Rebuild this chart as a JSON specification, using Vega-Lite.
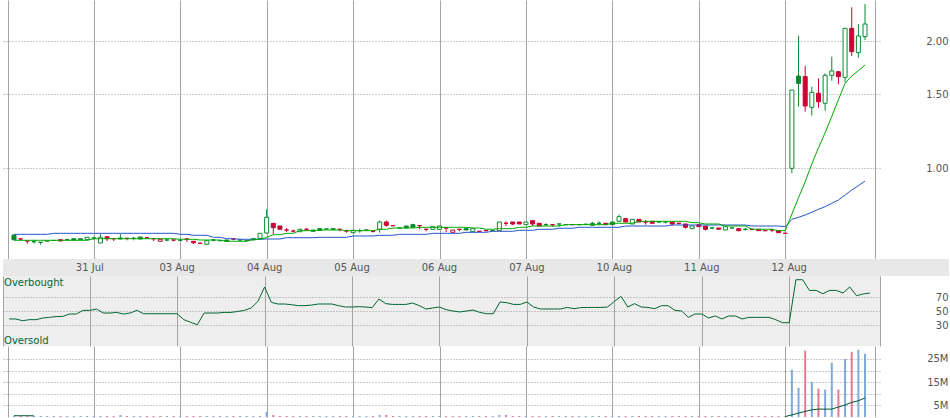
{
"$schema": "https://vega.github.io/schema/vega-lite/v6.json",
"padding": {"left": 3, "top": 0, "right": 0, "bottom": 0},
"background": "white",
"spacing": 0,
"config": {"view": {"stroke": null}, "axis": {"labelFont": "DejaVu Sans", "labelFontSize": 10, "labelColor": "#555555", "labelOverlap": false}, "text": {"font": "DejaVu Sans"}},
"datasets": {"bars": [
{"k":-12,"o":0.6948,"h":0.6948,"l":0.6772,"c":0.6772,"t":"u","m1":0.675,"m2":0.6974,"r":38.6,"v":0.43,"vm":0.55},
{"k":-11,"o":0.6798,"h":0.6835,"l":0.675,"c":0.6798,"t":"d","m1":0.675,"m2":0.6974,"r":38.6,"v":0.43,"vm":0.55},
{"k":-10,"o":0.6725,"h":0.6725,"l":0.6627,"c":0.6725,"t":"d","m1":0.675,"m2":0.6974,"r":36.1,"v":0.43,"vm":0.55},
{"k":-9,"o":0.6699,"h":0.6772,"l":0.6627,"c":0.6699,"t":"u","m1":0.675,"m2":0.6974,"r":37.6,"v":0.43,"vm":0.5},
{"k":-8,"o":0.6677,"h":0.6688,"l":0.6593,"c":0.6677,"t":"u","m1":0.675,"m2":0.6974,"r":37.6,"v":0.43,"vm":null},
{"k":-7,"o":0.6725,"h":0.6736,"l":0.6713,"c":0.6725,"t":"u","m1":0.675,"m2":0.6974,"r":40,"v":0.43,"vm":null},
{"k":-6,"o":0.6743,"h":0.6772,"l":0.6743,"c":0.6743,"t":"u","m1":0.675,"m2":0.7012,"r":40.9,"v":0.43,"vm":null},
{"k":-5,"o":0.6772,"h":0.6772,"l":0.6725,"c":0.6725,"t":"d","m1":0.675,"m2":0.7012,"r":42,"v":0.43,"vm":null},
{"k":-4,"o":0.6772,"h":0.6809,"l":0.6725,"c":0.6772,"t":"u","m1":0.675,"m2":0.7012,"r":42.3,"v":0.43,"vm":null},
{"k":-3,"o":0.6809,"h":0.6809,"l":0.6761,"c":0.6761,"t":"u","m1":0.675,"m2":0.7012,"r":45.7,"v":0.43,"vm":null},
{"k":-2,"o":0.6809,"h":0.6809,"l":0.6772,"c":0.6772,"t":"u","m1":0.675,"m2":0.7012,"r":45.7,"v":0.43,"vm":null},
{"k":-1,"o":0.6772,"h":0.6861,"l":0.6772,"c":0.6861,"t":"u","m1":0.675,"m2":0.7012,"r":50.9,"v":0.43,"vm":null},
{"k":0,"o":0.6835,"h":0.6884,"l":0.6772,"c":0.6835,"t":"u","m1":0.6809,"m2":0.7012,"r":50.9,"v":0.43,"vm":null},
{"k":1,"o":0.6652,"h":0.6997,"l":0.6652,"c":0.6861,"t":"u","m1":0.6809,"m2":0.7012,"r":52.8,"v":0.43,"vm":null},
{"k":2,"o":0.6884,"h":0.6884,"l":0.6725,"c":0.6809,"t":"d","m1":0.6809,"m2":0.7012,"r":47.1,"v":0.43,"vm":null},
{"k":3,"o":0.6809,"h":0.6809,"l":0.6725,"c":0.6809,"t":"d","m1":0.6809,"m2":0.7012,"r":47.1,"v":0.43,"vm":null},
{"k":4,"o":0.6835,"h":0.6997,"l":0.6798,"c":0.6798,"t":"u","m1":0.6809,"m2":0.7012,"r":48,"v":0.86,"vm":null},
{"k":5,"o":0.6824,"h":0.6824,"l":0.675,"c":0.6824,"t":"d","m1":0.6809,"m2":0.7012,"r":45.7,"v":0.43,"vm":null},
{"k":6,"o":0.6824,"h":0.6873,"l":0.675,"c":0.6824,"t":"u","m1":0.6809,"m2":0.7012,"r":47.1,"v":0.43,"vm":null},
{"k":7,"o":0.6873,"h":0.6873,"l":0.6798,"c":0.6798,"t":"u","m1":0.6809,"m2":0.7012,"r":50.9,"v":0.43,"vm":null},
{"k":8,"o":0.6846,"h":0.685,"l":0.684,"c":0.6846,"t":"d","m1":0.6809,"m2":0.7012,"r":46.1,"v":0.43,"vm":null},
{"k":9,"o":0.6809,"h":0.6809,"l":0.6725,"c":0.6809,"t":"d","m1":0.6809,"m2":0.7012,"r":46.1,"v":0.43,"vm":null},
{"k":10,"o":0.6713,"h":0.6787,"l":0.6713,"c":0.6787,"t":"d","m1":0.6809,"m2":0.7012,"r":46.1,"v":0.43,"vm":null},
{"k":11,"o":0.6761,"h":0.6809,"l":0.6713,"c":0.6761,"t":"u","m1":0.6809,"m2":0.7012,"r":46.1,"v":0.43,"vm":null},
{"k":12,"o":0.6761,"h":0.6761,"l":0.6713,"c":0.6761,"t":"d","m1":0.6809,"m2":0.7012,"r":46.1,"v":0.43,"vm":null},
{"k":13,"o":0.675,"h":0.6761,"l":0.674,"c":0.675,"t":"u","m1":0.6787,"m2":0.6974,"r":46.1,"v":0.43,"vm":null},
{"k":14,"o":0.6798,"h":0.6798,"l":0.6688,"c":0.6798,"t":"d","m1":0.6787,"m2":0.6974,"r":37.6,"v":0.43,"vm":null},
{"k":15,"o":0.6713,"h":0.6713,"l":0.6615,"c":0.6663,"t":"d","m1":0.6787,"m2":0.6937,"r":33.9,"v":0.43,"vm":null},
{"k":16,"o":0.6641,"h":0.6663,"l":0.6615,"c":0.6641,"t":"d","m1":0.6761,"m2":0.6937,"r":30.4,"v":0.43,"vm":null},
{"k":17,"o":0.6604,"h":0.6736,"l":0.6604,"c":0.6736,"t":"u","m1":0.6761,"m2":0.6937,"r":47.1,"v":0.43,"vm":null},
{"k":18,"o":0.6761,"h":0.6798,"l":0.6713,"c":0.6761,"t":"u","m1":0.6761,"m2":0.6861,"r":47.1,"v":0.43,"vm":null},
{"k":19,"o":0.6736,"h":0.675,"l":0.6725,"c":0.6736,"t":"u","m1":0.6761,"m2":0.6861,"r":47.1,"v":0.43,"vm":null},
{"k":20,"o":0.6761,"h":0.6761,"l":0.6713,"c":0.6713,"t":"u","m1":0.6713,"m2":0.6809,"r":48,"v":0.43,"vm":null},
{"k":21,"o":0.6798,"h":0.6835,"l":0.675,"c":0.6798,"t":"d","m1":0.6713,"m2":0.6809,"r":48,"v":0.43,"vm":null},
{"k":22,"o":0.6761,"h":0.677,"l":0.675,"c":0.6761,"t":"u","m1":0.6713,"m2":0.6787,"r":49.4,"v":0.43,"vm":null},
{"k":23,"o":0.6743,"h":0.675,"l":0.6736,"c":0.6743,"t":"u","m1":0.6713,"m2":0.6787,"r":50.9,"v":0.43,"vm":null},
{"k":24,"o":0.6809,"h":0.6809,"l":0.6761,"c":0.6761,"t":"u","m1":0.6787,"m2":0.6787,"r":54.3,"v":0.43,"vm":null},
{"k":25,"o":0.6824,"h":0.7012,"l":0.6824,"c":0.7012,"t":"u","m1":0.6787,"m2":0.6787,"r":63.7,"v":0.43,"vm":null},
{"k":26,"o":0.7024,"h":0.7993,"l":0.7012,"c":0.7653,"t":"u","m1":0.6861,"m2":0.6798,"r":84.3,"v":2.2,"vm":null},
{"k":27,"o":0.7405,"h":0.7405,"l":0.6986,"c":0.7232,"t":"d","m1":0.6959,"m2":0.6798,"r":62.3,"v":0.86,"vm":null},
{"k":28,"o":0.7298,"h":0.7298,"l":0.7169,"c":0.7169,"t":"d","m1":0.6959,"m2":0.6798,"r":60,"v":0.43,"vm":null},
{"k":29,"o":0.7141,"h":0.7219,"l":0.7063,"c":0.7141,"t":"d","m1":0.7012,"m2":0.6846,"r":60,"v":0.43,"vm":null},
{"k":30,"o":0.7102,"h":0.7153,"l":0.7052,"c":0.7102,"t":"d","m1":0.7012,"m2":0.6846,"r":59,"v":0.43,"vm":null},
{"k":31,"o":0.7075,"h":0.7169,"l":0.7075,"c":0.7169,"t":"u","m1":0.7114,"m2":0.6846,"r":57.6,"v":0.43,"vm":null},
{"k":32,"o":0.7169,"h":0.7206,"l":0.7115,"c":0.7169,"t":"d","m1":0.7114,"m2":0.6846,"r":57.6,"v":0.43,"vm":null},
{"k":33,"o":0.7141,"h":0.7141,"l":0.709,"c":0.709,"t":"u","m1":0.7114,"m2":0.6846,"r":58.5,"v":0.43,"vm":null},
{"k":34,"o":0.7193,"h":0.7193,"l":0.7129,"c":0.7129,"t":"u","m1":0.7141,"m2":0.6861,"r":60,"v":0.43,"vm":null},
{"k":35,"o":0.718,"h":0.719,"l":0.717,"c":0.718,"t":"u","m1":0.7141,"m2":0.6861,"r":60,"v":0.43,"vm":null},
{"k":36,"o":0.7193,"h":0.7193,"l":0.7155,"c":0.7155,"t":"u","m1":0.7141,"m2":0.6861,"r":60,"v":0.43,"vm":null},
{"k":37,"o":0.7169,"h":0.7169,"l":0.709,"c":0.7169,"t":"d","m1":0.7141,"m2":0.6861,"r":57.6,"v":0.43,"vm":null},
{"k":38,"o":0.7102,"h":0.7153,"l":0.7036,"c":0.7102,"t":"d","m1":0.7114,"m2":0.6861,"r":55.7,"v":0.43,"vm":null},
{"k":39,"o":0.7036,"h":0.7129,"l":0.7036,"c":0.7129,"t":"u","m1":0.7114,"m2":0.6911,"r":55.7,"v":0.43,"vm":null},
{"k":40,"o":0.7114,"h":0.7193,"l":0.7036,"c":0.7114,"t":"u","m1":0.7114,"m2":0.6911,"r":56.2,"v":0.43,"vm":null},
{"k":41,"o":0.7141,"h":0.715,"l":0.713,"c":0.7141,"t":"u","m1":0.7114,"m2":0.6911,"r":55.7,"v":0.43,"vm":null},
{"k":42,"o":0.709,"h":0.7114,"l":0.7036,"c":0.709,"t":"d","m1":0.7114,"m2":0.6911,"r":54.8,"v":0.43,"vm":null},
{"k":43,"o":0.7169,"h":0.7513,"l":0.7036,"c":0.7459,"t":"u","m1":0.7169,"m2":0.6937,"r":67.1,"v":0.86,"vm":null},
{"k":44,"o":0.7459,"h":0.7513,"l":0.7272,"c":0.7327,"t":"d","m1":0.7169,"m2":0.6937,"r":60.5,"v":0.86,"vm":null},
{"k":45,"o":0.731,"h":0.732,"l":0.73,"c":0.731,"t":"d","m1":0.7219,"m2":0.6937,"r":59.4,"v":0.43,"vm":null},
{"k":46,"o":0.7219,"h":0.723,"l":0.721,"c":0.7219,"t":"u","m1":0.7219,"m2":0.6974,"r":59.4,"v":0.43,"vm":null},
{"k":47,"o":0.7298,"h":0.7298,"l":0.7219,"c":0.7219,"t":"u","m1":0.7219,"m2":0.6974,"r":59.4,"v":0.43,"vm":null},
{"k":48,"o":0.7351,"h":0.739,"l":0.7247,"c":0.7247,"t":"u","m1":0.7219,"m2":0.6974,"r":61.4,"v":0.43,"vm":null},
{"k":49,"o":0.731,"h":0.731,"l":0.7169,"c":0.731,"t":"d","m1":0.7247,"m2":0.6974,"r":57.6,"v":0.43,"vm":null},
{"k":50,"o":0.7169,"h":0.7169,"l":0.709,"c":0.7169,"t":"d","m1":0.7247,"m2":0.6974,"r":52.8,"v":0.43,"vm":null},
{"k":51,"o":0.7169,"h":0.7271,"l":0.7169,"c":0.7271,"t":"u","m1":0.7247,"m2":0.7012,"r":54.3,"v":0.43,"vm":null},
{"k":52,"o":0.7169,"h":0.7298,"l":0.7169,"c":0.7298,"t":"u","m1":0.7247,"m2":0.7012,"r":55.7,"v":0.43,"vm":null},
{"k":53,"o":0.7219,"h":0.7219,"l":0.7063,"c":0.7219,"t":"d","m1":0.7247,"m2":0.7012,"r":51.9,"v":0.43,"vm":null},
{"k":54,"o":0.7051,"h":0.7141,"l":0.7051,"c":0.7141,"t":"d","m1":0.7247,"m2":0.7012,"r":50,"v":0.43,"vm":null},
{"k":55,"o":0.7169,"h":0.7169,"l":0.709,"c":0.7169,"t":"d","m1":0.7247,"m2":0.7012,"r":48.6,"v":0.43,"vm":null},
{"k":56,"o":0.7193,"h":0.7193,"l":0.7141,"c":0.7141,"t":"u","m1":0.7247,"m2":0.7051,"r":50,"v":0.43,"vm":null},
{"k":57,"o":0.7075,"h":0.7193,"l":0.7075,"c":0.7193,"t":"u","m1":0.7219,"m2":0.7051,"r":51.4,"v":0.43,"vm":null},
{"k":58,"o":0.709,"h":0.71,"l":0.708,"c":0.709,"t":"d","m1":0.7219,"m2":0.7051,"r":48,"v":0.43,"vm":null},
{"k":59,"o":0.7114,"h":0.712,"l":0.7105,"c":0.7114,"t":"d","m1":0.7169,"m2":0.7051,"r":46.1,"v":0.43,"vm":null},
{"k":60,"o":0.7114,"h":0.7125,"l":0.7105,"c":0.7114,"t":"u","m1":0.7169,"m2":0.709,"r":46.1,"v":0.43,"vm":null},
{"k":61,"o":0.7114,"h":0.7459,"l":0.7114,"c":0.7459,"t":"u","m1":0.7193,"m2":0.709,"r":62.9,"v":0.86,"vm":null},
{"k":62,"o":0.7407,"h":0.7488,"l":0.7298,"c":0.7407,"t":"d","m1":0.7193,"m2":0.709,"r":61.9,"v":0.86,"vm":null},
{"k":63,"o":0.7459,"h":0.7459,"l":0.7325,"c":0.7379,"t":"d","m1":0.7193,"m2":0.709,"r":59.4,"v":0.43,"vm":null},
{"k":64,"o":0.7459,"h":0.7459,"l":0.7379,"c":0.7379,"t":"d","m1":0.7247,"m2":0.7129,"r":59.4,"v":0.43,"vm":null},
{"k":65,"o":0.7352,"h":0.7459,"l":0.7352,"c":0.7459,"t":"u","m1":0.7247,"m2":0.7129,"r":62.9,"v":0.43,"vm":null},
{"k":66,"o":0.7513,"h":0.7513,"l":0.7298,"c":0.7379,"t":"d","m1":0.7298,"m2":0.7129,"r":55.7,"v":0.43,"vm":null},
{"k":67,"o":0.7407,"h":0.7407,"l":0.7298,"c":0.7298,"t":"d","m1":0.7298,"m2":0.7169,"r":52.9,"v":0.43,"vm":null},
{"k":68,"o":0.7352,"h":0.7407,"l":0.7298,"c":0.7352,"t":"u","m1":0.7298,"m2":0.7169,"r":52.9,"v":0.43,"vm":null},
{"k":69,"o":0.7352,"h":0.7352,"l":0.7272,"c":0.7352,"t":"d","m1":0.7298,"m2":0.7169,"r":52.9,"v":0.43,"vm":null},
{"k":70,"o":0.7379,"h":0.7379,"l":0.7272,"c":0.7379,"t":"u","m1":0.7298,"m2":0.7208,"r":52.9,"v":0.43,"vm":null},
{"k":71,"o":0.7352,"h":0.736,"l":0.7345,"c":0.7352,"t":"u","m1":0.7352,"m2":0.7208,"r":55.1,"v":0.43,"vm":null},
{"k":72,"o":0.7352,"h":0.736,"l":0.7345,"c":0.7352,"t":"d","m1":0.7352,"m2":0.7208,"r":53.3,"v":0.43,"vm":null},
{"k":73,"o":0.7352,"h":0.736,"l":0.7345,"c":0.7352,"t":"u","m1":0.7352,"m2":0.7247,"r":54.8,"v":0.43,"vm":null},
{"k":74,"o":0.7367,"h":0.7375,"l":0.736,"c":0.7367,"t":"u","m1":0.7352,"m2":0.7247,"r":55.1,"v":0.43,"vm":null},
{"k":75,"o":0.7407,"h":0.7459,"l":0.7327,"c":0.7327,"t":"u","m1":0.7352,"m2":0.7247,"r":55.1,"v":0.43,"vm":null},
{"k":76,"o":0.7407,"h":0.7488,"l":0.7327,"c":0.7407,"t":"u","m1":0.7352,"m2":0.7247,"r":55.1,"v":0.43,"vm":null},
{"k":77,"o":0.7407,"h":0.7407,"l":0.7352,"c":0.7352,"t":"d","m1":0.7352,"m2":0.7247,"r":55.7,"v":0.43,"vm":null},
{"k":78,"o":0.7459,"h":0.7459,"l":0.7352,"c":0.7352,"t":"u","m1":0.7407,"m2":0.7247,"r":63.7,"v":0.43,"vm":null},
{"k":79,"o":0.7488,"h":0.7762,"l":0.7488,"c":0.7678,"t":"u","m1":0.7407,"m2":0.7247,"r":70.9,"v":0.43,"vm":null},
{"k":80,"o":0.7595,"h":0.7595,"l":0.7459,"c":0.7459,"t":"d","m1":0.7407,"m2":0.7298,"r":55.7,"v":0.43,"vm":null},
{"k":81,"o":0.7379,"h":0.7569,"l":0.7379,"c":0.7569,"t":"u","m1":0.7407,"m2":0.7298,"r":60.5,"v":0.43,"vm":null},
{"k":82,"o":0.7569,"h":0.7569,"l":0.7459,"c":0.7459,"t":"d","m1":0.7488,"m2":0.7298,"r":55.7,"v":0.43,"vm":null},
{"k":83,"o":0.7459,"h":0.7541,"l":0.7352,"c":0.7459,"t":"d","m1":0.7488,"m2":0.7298,"r":55.1,"v":0.43,"vm":null},
{"k":84,"o":0.7488,"h":0.7488,"l":0.7407,"c":0.7407,"t":"d","m1":0.7488,"m2":0.7298,"r":53.3,"v":0.43,"vm":null},
{"k":85,"o":0.7459,"h":0.747,"l":0.745,"c":0.7459,"t":"u","m1":0.7488,"m2":0.7298,"r":57.6,"v":0.43,"vm":null},
{"k":86,"o":0.7459,"h":0.747,"l":0.7407,"c":0.7459,"t":"u","m1":0.7488,"m2":0.7298,"r":57.6,"v":0.43,"vm":null},
{"k":87,"o":0.7459,"h":0.7459,"l":0.7325,"c":0.7379,"t":"d","m1":0.7488,"m2":0.7338,"r":50.9,"v":0.43,"vm":null},
{"k":88,"o":0.7407,"h":0.741,"l":0.7352,"c":0.7407,"t":"d","m1":0.7488,"m2":0.7338,"r":50,"v":0.43,"vm":null},
{"k":89,"o":0.7379,"h":0.7379,"l":0.7193,"c":0.7247,"t":"d","m1":0.7488,"m2":0.7338,"r":40.9,"v":0.43,"vm":null},
{"k":90,"o":0.7193,"h":0.7298,"l":0.7193,"c":0.7298,"t":"u","m1":0.7431,"m2":0.7338,"r":45.7,"v":0.43,"vm":null},
{"k":91,"o":0.7352,"h":0.7352,"l":0.7271,"c":0.7271,"t":"d","m1":0.7431,"m2":0.7338,"r":45.7,"v":0.43,"vm":null},
{"k":92,"o":0.7298,"h":0.7298,"l":0.7114,"c":0.7169,"t":"d","m1":0.7379,"m2":0.7338,"r":40,"v":0.43,"vm":null},
{"k":93,"o":0.7219,"h":0.7271,"l":0.7169,"c":0.7219,"t":"u","m1":0.7379,"m2":0.7338,"r":42.9,"v":0.43,"vm":null},
{"k":94,"o":0.7219,"h":0.7219,"l":0.7141,"c":0.7169,"t":"d","m1":0.7379,"m2":0.7338,"r":38.6,"v":0.43,"vm":null},
{"k":95,"o":0.7141,"h":0.7271,"l":0.7141,"c":0.7271,"t":"u","m1":0.7298,"m2":0.7338,"r":42.9,"v":0.43,"vm":null},
{"k":96,"o":0.7219,"h":0.723,"l":0.721,"c":0.7219,"t":"u","m1":0.7298,"m2":0.7338,"r":42.9,"v":0.43,"vm":null},
{"k":97,"o":0.7193,"h":0.7193,"l":0.709,"c":0.7114,"t":"d","m1":0.7298,"m2":0.7338,"r":38.6,"v":0.43,"vm":null},
{"k":98,"o":0.7169,"h":0.7219,"l":0.7114,"c":0.7169,"t":"u","m1":0.7298,"m2":0.7338,"r":40.9,"v":0.43,"vm":null},
{"k":99,"o":0.7169,"h":0.7175,"l":0.716,"c":0.7169,"t":"d","m1":0.7169,"m2":0.7298,"r":40.9,"v":0.43,"vm":null},
{"k":100,"o":0.7169,"h":0.7169,"l":0.7114,"c":0.7114,"t":"d","m1":0.7169,"m2":0.7298,"r":40.9,"v":0.43,"vm":null},
{"k":101,"o":0.7114,"h":0.712,"l":0.7105,"c":0.7114,"t":"d","m1":0.7169,"m2":0.7298,"r":40.9,"v":0.43,"vm":null},
{"k":102,"o":0.7141,"h":0.7193,"l":0.7063,"c":0.7141,"t":"d","m1":0.7169,"m2":0.7298,"r":37.6,"v":0.43,"vm":null},
{"k":103,"o":0.7114,"h":0.7114,"l":0.7024,"c":0.7036,"t":"d","m1":0.7114,"m2":0.7298,"r":33.3,"v":0.43,"vm":null},
{"k":104,"o":0.7012,"h":0.7036,"l":0.6986,"c":0.7012,"t":"d","m1":0.7114,"m2":0.7271,"r":33.3,"v":0.43,"vm":0.2},
{"k":105,"o":1.0,"h":1.533,"l":0.973,"c":1.533,"t":"u","m1":0.7792,"m2":0.757,"r":94.7,"v":20.4,"vm":0.9},
{"k":106,"o":1.655,"h":2.062,"l":1.4,"c":1.59,"t":"u","m1":0.8517,"m2":0.7653,"r":94.7,"v":12.6,"vm":1.7},
{"k":107,"o":1.649,"h":1.751,"l":1.362,"c":1.405,"t":"d","m1":0.9295,"m2":0.775,"r":79.4,"v":28.6,"vm":2.4},
{"k":108,"o":1.395,"h":1.561,"l":1.333,"c":1.514,"t":"u","m1":1.0238,"m2":0.7865,"r":79.4,"v":15.1,"vm":3.1},
{"k":109,"o":1.506,"h":1.634,"l":1.392,"c":1.438,"t":"d","m1":1.119,"m2":0.7995,"r":74.7,"v":12.2,"vm":3.4},
{"k":110,"o":1.426,"h":1.679,"l":1.369,"c":1.661,"t":"u","m1":1.2145,"m2":0.8109,"r":79.4,"v":11.8,"vm":3.4},
{"k":111,"o":1.661,"h":1.839,"l":1.613,"c":1.701,"t":"u","m1":1.3282,"m2":0.8261,"r":79.4,"v":23.4,"vm":3.4},
{"k":112,"o":1.694,"h":1.701,"l":1.582,"c":1.649,"t":"d","m1":1.4542,"m2":0.8411,"r":75.7,"v":11.8,"vm":4.3},
{"k":113,"o":1.643,"h":2.147,"l":1.596,"c":2.147,"t":"u","m1":1.5904,"m2":0.8644,"r":84.3,"v":25.0,"vm":5.2},
{"k":114,"o":2.147,"h":2.408,"l":1.846,"c":1.89,"t":"d","m1":1.655,"m2":0.8883,"r":71.9,"v":28.1,"vm":6.3},
{"k":115,"o":1.88,"h":2.198,"l":1.829,"c":2.059,"t":"u","m1":1.7036,"m2":0.9094,"r":74.3,"v":29.0,"vm":7.0},
{"k":116,"o":2.051,"h":2.452,"l":2.014,"c":2.198,"t":"u","m1":1.7574,"m2":0.933,"r":75.7,"v":27.3,"vm":8.2}
]},
"vconcat": [
{
 "width": 877, "height": 259,
 "data": {"name": "bars"},
 "encoding": {"x": {"field": "k", "type": "quantitative", "title": null, "scale": {"domain": [-12.9, 117.5], "nice": false, "zero": false}, "axis": {"values": [-12.9, 0, 13, 26, 39, 52, 65, 78, 91, 104, 117.5], "tickCount": 20, "labels": false, "ticks": false, "domain": false, "grid": true, "gridColor": "#a4a4a4", "gridWidth": 1}}},
 "layer": [
  {"mark": {"type": "rule", "strokeWidth": 1},
   "encoding": {
    "y": {"field": "l", "type": "quantitative", "title": null, "scale": {"type": "log", "domain": [0.6095, 2.506], "nice": false}, "axis": {"orient": "right", "values": [1, 1.5, 2], "tickCount": 10, "format": ".2f", "grid": true, "gridDash": [1, 2], "gridColor": "#999999", "ticks": false, "domain": false, "labelAlign": "right", "labelPadding": 68, "labelBaseline": "middle", "labelOverlap": false, "labelBound": false}},
    "y2": {"field": "h"},
    "color": {"condition": {"test": "datum.t == 'u'", "value": "#0b8a2e"}, "value": "#cc0033"}}},
  {"mark": {"type": "bar", "width": 4, "strokeWidth": 1},
   "encoding": {
    "y": {"field": "o", "type": "quantitative", "title": null, "scale": {"type": "log", "domain": [0.6095, 2.506], "nice": false}},
    "y2": {"field": "c"},
    "stroke": {"condition": {"test": "datum.t == 'u'", "value": "#0b8a2e"}, "value": "#cc0033"},
    "fill": {"condition": [{"test": "datum.c > datum.o", "value": "#ffffff"}, {"test": "datum.t == 'u'", "value": "#0b8a2e"}], "value": "#cc0033"}}},
  {"mark": {"type": "line", "color": "#2255cc", "strokeWidth": 1},
   "encoding": {"y": {"field": "m2", "type": "quantitative", "title": null, "scale": {"type": "log", "domain": [0.6095, 2.506], "nice": false}}}},
  {"mark": {"type": "line", "color": "#00aa00", "strokeWidth": 1},
   "encoding": {"y": {"field": "m1", "type": "quantitative", "title": null, "scale": {"type": "log", "domain": [0.6095, 2.506], "nice": false}}}}
 ]
},
{
 "width": 946, "height": 17,
 "view": {"fill": "#e8e8e8", "stroke": null},
 "data": {"values": [
  {"k": 0, "d": "31 Jul"}, {"k": 13, "d": "03 Aug"}, {"k": 26, "d": "04 Aug"}, {"k": 39, "d": "05 Aug"}, {"k": 52, "d": "06 Aug"},
  {"k": 65, "d": "07 Aug"}, {"k": 78, "d": "10 Aug"}, {"k": 91, "d": "11 Aug"}, {"k": 104, "d": "12 Aug"}]},
 "mark": {"type": "text", "fontSize": 10, "font": "DejaVu Sans", "color": "#555555", "baseline": "middle", "align": "center"},
 "encoding": {
  "x": {"field": "k", "type": "quantitative", "scale": {"domain": [-12.9, 127.76], "nice": false, "zero": false}, "axis": null},
  "text": {"field": "d"}}
},
{
 "width": 877, "height": 70,
 "view": {"fill": "#eeeeee", "stroke": null},
 "encoding": {"x": {"field": "k", "type": "quantitative", "title": null, "scale": {"domain": [-12.9, 117.5], "nice": false, "zero": false}, "axis": {"values": [-12.9, 0, 13, 26, 39, 52, 65, 78, 91, 104, 117.5], "tickCount": 20, "labels": false, "ticks": false, "domain": false, "grid": true, "gridColor": "#a4a4a4", "gridWidth": 1}}},
 "layer": [
  {"data": {"name": "bars"},
   "mark": {"type": "line", "color": "#006633", "strokeWidth": 1},
   "encoding": {"y": {"field": "r", "type": "quantitative", "title": null, "scale": {"domain": [0, 100], "nice": false, "zero": false}, "axis": {"orient": "right", "values": [30, 50, 70], "tickCount": 10, "grid": true, "gridDash": [1, 2], "gridColor": "#999999", "ticks": false, "domain": false, "labelAlign": "right", "labelPadding": 68, "labelBaseline": "middle", "labelOverlap": false, "labelBound": false}}}},
  {"data": {"values": [{"k": -12.75, "pos": 97, "label": "Overbought"}, {"k": -12.75, "pos": 15, "label": "Oversold"}]},
   "mark": {"type": "text", "align": "left", "baseline": "top", "fontSize": 10, "font": "DejaVu Sans", "color": "#006633"},
   "encoding": {"y": {"field": "pos", "type": "quantitative", "title": null}, "text": {"field": "label"}}}
 ]
},
{
 "width": 877, "height": 71,
 "data": {"name": "bars"},
 "encoding": {"x": {"field": "k", "type": "quantitative", "title": null, "scale": {"domain": [-12.9, 117.5], "nice": false, "zero": false}, "axis": {"values": [-12.9, 0, 13, 26, 39, 52, 65, 78, 91, 104, 117.5], "tickCount": 20, "labels": false, "ticks": false, "domain": false, "grid": true, "gridColor": "#a4a4a4", "gridWidth": 1}}},
 "layer": [
  {"mark": {"type": "bar", "width": 2},
   "encoding": {
    "y": {"field": "v", "type": "quantitative", "title": null, "scale": {"domain": [0, 30.6], "nice": false}, "axis": {"orient": "right", "values": [5, 10, 15, 20, 25], "tickCount": 10, "labelExpr": "datum.value % 10 == 5 ? datum.value + 'M' : ''", "grid": true, "gridDash": [1, 2], "gridColor": "#999999", "ticks": false, "domain": false, "labelAlign": "right", "labelPadding": 68, "labelBaseline": "middle", "labelOverlap": false, "labelBound": false}},
    "color": {"condition": {"test": "datum.t == 'u'", "value": "#7fa9d8"}, "value": "#e27a94"}}},
  {"mark": {"type": "line", "color": "#00552a", "strokeWidth": 1, "invalid": "break-paths-show-domains"},
   "encoding": {"y": {"field": "vm", "type": "quantitative", "title": null, "scale": {"domain": [0, 30.6], "nice": false}}}}
 ]
}
]
}
